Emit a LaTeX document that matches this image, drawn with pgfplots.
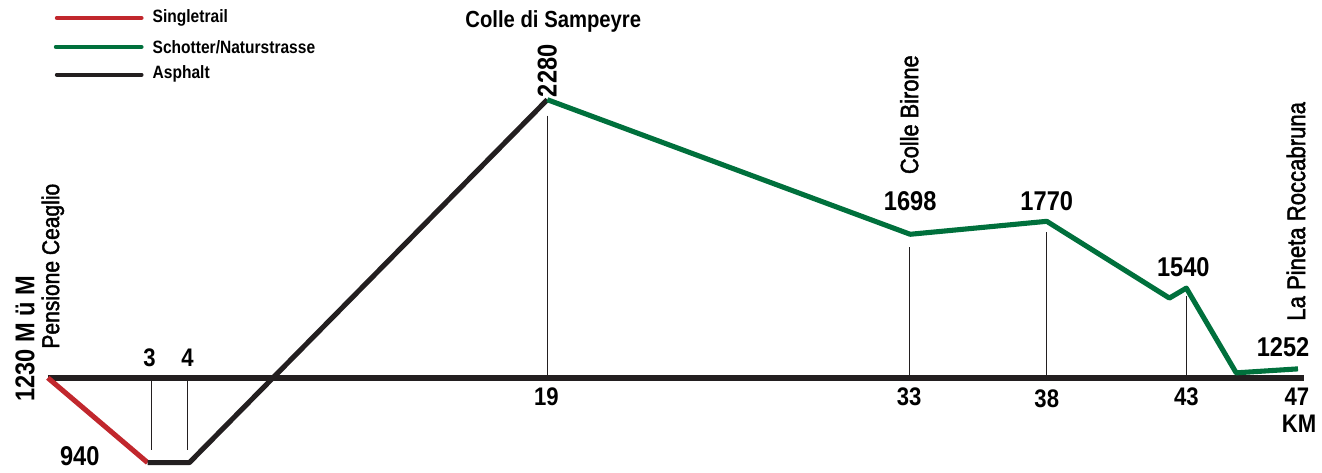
\documentclass[border=0pt]{standalone}
\usepackage{fontspec}
\setmainfont{Liberation Sans}[FakeStretch=0.87]
\newfontfamily\medfont{Liberation Sans}[FakeStretch=0.87, FakeBold=1.8]
\usepackage{pgfplots}
\pgfplotsset{compat=1.18}

\definecolor{trailred}{RGB}{193,39,45}
\definecolor{gravelgreen}{RGB}{0,112,60}
\definecolor{ink}{RGB}{35,31,32}

% schematic profile: positions as drawn (x to the right, y downwards)
\pgfplotstableread{
x    y
48   379
148  464
}\singletrail
\pgfplotstableread{
x    y
148  464
190  464
549  100
}\asphalt
\pgfplotstableread{
x    y
549  100
913  235
1050 222
1173 299
1190 289
1240 374
1302 370
}\gravel

\begin{document}
\begin{tikzpicture}
\begin{axis}[
  scale only axis,
  width=264.4mm, height=93.8mm,
  xmin=0, xmax=1322, ymin=0, ymax=469,
  y dir=reverse,
  hide axis,
  clip=false,
  every node/.style={text=ink, inner sep=0pt},
]
  \path (axis cs:0,0) rectangle (axis cs:1322,469);

  % legend
  \addplot[trailred, line width=2.3pt, line cap=round] coordinates {(57,18) (142,18)};
  \addplot[gravelgreen, line width=2.3pt, line cap=round] coordinates {(56,47) (142,47)};
  \addplot[ink, line width=2.3pt, line cap=round] coordinates {(57,75) (142,75)};
  \node[anchor=west, font=\fontsize{10.2}{12}\selectfont\bfseries] at (axis cs:147,18) {Singletrail};
  \node[anchor=west, font=\fontsize{10.2}{12}\selectfont\bfseries] at (axis cs:147,47) {Schotter/Naturstrasse};
  \node[anchor=west, font=\fontsize{10.2}{12}\selectfont\bfseries] at (axis cs:147,74) {Asphalt};

  % marker lines
  \addplot[ink, line width=0.55pt] coordinates {(152,379) (152,451)};
  \addplot[ink, line width=0.55pt] coordinates {(188,379) (188,451)};
  \addplot[ink, line width=0.55pt] coordinates {(549,116) (549,379)};
  \addplot[ink, line width=0.55pt] coordinates {(912,248) (912,379)};
  \addplot[ink, line width=0.55pt] coordinates {(1050,233) (1050,379)};
  \addplot[ink, line width=0.55pt] coordinates {(1190,297) (1190,379)};

  % baseline 1230 m
  \addplot[ink, line width=3.6pt] coordinates {(48,379) (1308,379)};

  % profile
  \addplot[trailred, line width=2.9pt, line join=round] table[x=x, y=y] {\singletrail};
  \addplot[ink, line width=2.9pt, line join=round] table[x=x, y=y] {\asphalt};
  \addplot[gravelgreen, line width=2.9pt, line join=round] table[x=x, y=y] {\gravel};

  % elevations
  \node[font=\fontsize{15.5}{18}\selectfont\bfseries, rotate=90] at (axis cs:549,71) {2280};
  \node[font=\fontsize{15.5}{18}\selectfont\bfseries] at (axis cs:913,202) {1698};
  \node[font=\fontsize{15.5}{18}\selectfont\bfseries] at (axis cs:1050,202) {1770};
  \node[font=\fontsize{15.5}{18}\selectfont\bfseries] at (axis cs:1187,268) {1540};
  \node[font=\fontsize{15.5}{18}\selectfont\bfseries] at (axis cs:1287,348) {1252};
  \node[font=\fontsize{15.5}{18}\selectfont\bfseries] at (axis cs:80,458) {940};
  \node[font=\fontsize{15.5}{18}\selectfont\bfseries, rotate=90] at (axis cs:25,340) {1230 M ü M};

  % km
  \node[font=\fontsize{14.5}{17}\selectfont\bfseries] at (axis cs:150,359) {3};
  \node[font=\fontsize{14.5}{17}\selectfont\bfseries] at (axis cs:188,359) {4};
  \node[font=\fontsize{14.5}{17}\selectfont\bfseries] at (axis cs:548,398) {19};
  \node[font=\fontsize{14.5}{17}\selectfont\bfseries] at (axis cs:912,398) {33};
  \node[font=\fontsize{14.5}{17}\selectfont\bfseries] at (axis cs:1050,400) {38};
  \node[font=\fontsize{14.5}{17}\selectfont\bfseries] at (axis cs:1190,398) {43};
  \node[font=\fontsize{14.5}{17}\selectfont\bfseries] at (axis cs:1301,398) {47};
  \node[font=\fontsize{14.5}{17}\selectfont\bfseries] at (axis cs:1303,425) {KM};

  % places
  \node[font=\fontsize{13.3}{15}\selectfont\bfseries] at (axis cs:555,22) {Colle di Sampeyre};
  \node[font=\fontsize{14.3}{16}\selectfont\medfont, rotate=90] at (axis cs:912,115) {Colle Birone};
  \node[font=\fontsize{14.5}{16}\selectfont\medfont, rotate=90] at (axis cs:1300,212) {La Pineta Roccabruna};
  \node[font=\fontsize{13.8}{15}\selectfont\medfont, rotate=90] at (axis cs:53,267) {Pensione Ceaglio};
\end{axis}
\end{tikzpicture}
\end{document}
